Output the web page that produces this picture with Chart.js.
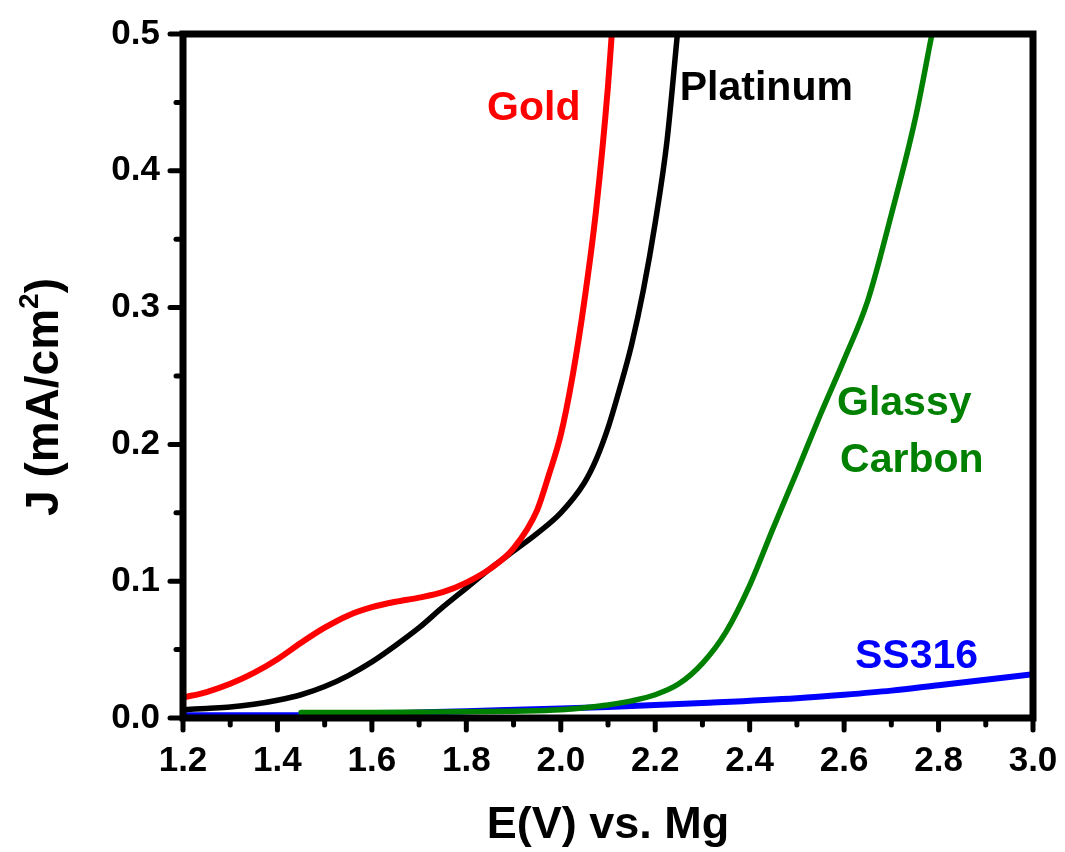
<!DOCTYPE html>
<html>
<head>
<meta charset="utf-8">
<script src="https://cdn.jsdelivr.net/npm/chart.js@4.4.1/dist/chart.umd.min.js"></script>
<style>
  html, body { margin: 0; padding: 0; background: #fff; }
  canvas { display: block; }
</style>
</head>
<body>
<canvas id="lsv" width="1065" height="852"></canvas>
<script>
// Linear sweep voltammetry: current density vs. potential (V vs. Mg)
const goldE = [1.20, 1.25, 1.30, 1.35, 1.40, 1.45, 1.50, 1.55, 1.60, 1.65, 1.70, 1.75, 1.80, 1.85, 1.90, 1.95, 1.975, 2.00, 2.025, 2.05, 2.075, 2.10, 2.108];
const goldJ = [0.015, 0.019, 0.025, 0.033, 0.043, 0.055, 0.066, 0.075, 0.081, 0.085, 0.088, 0.092, 0.099, 0.109, 0.124, 0.152, 0.178, 0.207, 0.250, 0.305, 0.372, 0.462, 0.500];

const platE = [1.20, 1.25, 1.30, 1.35, 1.40, 1.45, 1.50, 1.55, 1.60, 1.65, 1.70, 1.75, 1.80, 1.85, 1.90, 1.95, 2.00, 2.05, 2.075, 2.10, 2.125, 2.15, 2.175, 2.20, 2.225, 2.247];
const platJ = [0.006, 0.007, 0.008, 0.010, 0.013, 0.017, 0.023, 0.031, 0.041, 0.053, 0.066, 0.081, 0.095, 0.109, 0.122, 0.135, 0.150, 0.172, 0.189, 0.212, 0.241, 0.273, 0.313, 0.362, 0.422, 0.500];

const glassyE = [1.45, 1.60, 1.80, 1.90, 2.00, 2.05, 2.10, 2.15, 2.20, 2.25, 2.30, 2.35, 2.40, 2.45, 2.50, 2.55, 2.60, 2.65, 2.70, 2.75, 2.786];
const glassyJ = [0.004, 0.004, 0.0045, 0.005, 0.006, 0.0075, 0.0095, 0.0125, 0.017, 0.025, 0.040, 0.063, 0.097, 0.139, 0.180, 0.222, 0.262, 0.305, 0.368, 0.437, 0.500];

const ssE = [1.20, 1.40, 1.60, 1.80, 2.00, 2.10, 2.30, 2.50, 2.60, 2.70, 2.80, 2.90, 3.00];
const ssJ = [0.002, 0.002, 0.003, 0.005, 0.007, 0.008, 0.011, 0.0145, 0.017, 0.020, 0.024, 0.028, 0.032];

const xMajorTicks = [1.2, 1.4, 1.6, 1.8, 2.0, 2.2, 2.4, 2.6, 2.8, 3.0];
const xMinorTicks = [1.3, 1.5, 1.7, 1.9, 2.1, 2.3, 2.5, 2.7, 2.9];
const yMajorTicks = [0.0, 0.1, 0.2, 0.3, 0.4, 0.5];
const yMinorTicks = [0.05, 0.15, 0.25, 0.35, 0.45];

const seriesNames = ['Gold', 'Platinum', 'Glassy Carbon', 'SS316'];
const xTitle = 'E(V) vs. Mg';
const yTitleParts = { base: 'J (mA/cm', sup: '2', tail: ')' };

// In-plot curve labels, anchored in data coordinates (left edge, baseline)
const curveLabels = [
  { lines: ['Gold'], e: 1.844, j: 0.437, color: '#ff0000' },
  { lines: ['Platinum'], e: 2.252, j: 0.452, color: '#000000' },
  { lines: ['Glassy', 'Carbon'], e: 2.585, j: 0.2215, color: '#008000' },
  { lines: ['SS316'], e: 2.623, j: 0.0365, color: '#0000ff' }
];

const FONT = '"Liberation Sans", Arial, sans-serif';

const toPoints = (xs, ys) => xs.map((x, i) => ({ x: x, y: ys[i] }));

function lineSet(label, xs, ys, color, width) {
  return {
    label: label,
    data: toPoints(xs, ys),
    borderColor: color,
    backgroundColor: color,
    borderWidth: width,
    pointRadius: 0,
    showLine: true,
    fill: false,
    cubicInterpolationMode: 'monotone',
    borderCapStyle: 'round',
    borderJoinStyle: 'round'
  };
}

// Frame, outward tick marks (major + minor), y title with superscript, curve labels
const framePlugin = {
  id: 'framePlugin',
  afterDatasetsDraw(chart) {
    const { ctx, chartArea: a, scales: { x, y } } = chart;
    ctx.save();
    ctx.strokeStyle = '#000';
    ctx.lineCap = 'round';

    ctx.lineWidth = 5;
    const tick = (x1, y1, x2, y2) => { ctx.beginPath(); ctx.moveTo(x1, y1); ctx.lineTo(x2, y2); ctx.stroke(); };
    xMajorTicks.forEach(v => { const px = x.getPixelForValue(v); tick(px, a.bottom, px, a.bottom + 12); });
    xMinorTicks.forEach(v => { const px = x.getPixelForValue(v); tick(px, a.bottom, px, a.bottom + 7); });
    yMajorTicks.forEach(v => { const py = y.getPixelForValue(v); tick(a.left, py, a.left - 13, py); });
    yMinorTicks.forEach(v => { const py = y.getPixelForValue(v); tick(a.left, py, a.left - 7, py); });

    ctx.lineCap = 'square';
    ctx.lineWidth = 7;
    ctx.strokeRect(a.left, a.top, a.right - a.left, a.bottom - a.top);

    // curve labels
    ctx.font = 'bold 41px ' + FONT;
    ctx.textAlign = 'left';
    ctx.textBaseline = 'alphabetic';
    curveLabels.forEach(l => {
      ctx.fillStyle = l.color;
      const px = x.getPixelForValue(l.e);
      const py = y.getPixelForValue(l.j);
      l.lines.forEach((t, i) => ctx.fillText(t, px + (i ? 3 : 0), py + i * 57));
    });

    // y-axis title, rotated, with superscript
    const baseFont = 'bold 46px ' + FONT;
    const supFont = 'bold 28px ' + FONT;
    ctx.font = baseFont;
    const wBase = ctx.measureText(yTitleParts.base).width;
    const wTail = ctx.measureText(yTitleParts.tail).width;
    ctx.font = supFont;
    const wSup = ctx.measureText(yTitleParts.sup).width;
    const total = wBase + wSup + wTail;
    ctx.translate(58, (a.top + a.bottom) / 2 + 21);
    ctx.rotate(-Math.PI / 2);
    ctx.fillStyle = '#000';
    ctx.textAlign = 'left';
    ctx.textBaseline = 'alphabetic';
    let cx = -total / 2;
    ctx.font = baseFont;
    ctx.fillText(yTitleParts.base, cx, 0);
    cx += wBase;
    ctx.font = supFont;
    ctx.fillText(yTitleParts.sup, cx, -20);
    cx += wSup;
    ctx.font = baseFont;
    ctx.fillText(yTitleParts.tail, cx, 0);
    ctx.restore();
  }
};

new Chart(document.getElementById('lsv'), {
  type: 'scatter',
  data: {
    datasets: [
      lineSet(seriesNames[0], goldE, goldJ, '#ff0000', 6),
      lineSet(seriesNames[1], platE, platJ, '#000000', 5.5),
      lineSet(seriesNames[2], glassyE, glassyJ, '#008000', 5.5),
      lineSet(seriesNames[3], ssE, ssJ, '#0000ff', 6)
    ]
  },
  options: {
    responsive: false,
    animation: false,
    events: [],
    layout: { padding: { top: 34, right: 32, left: 0, bottom: 0 } },
    plugins: { legend: { display: false }, tooltip: { enabled: false } },
    scales: {
      x: {
        type: 'linear',
        min: 1.2,
        max: 3.0,
        afterBuildTicks: s => { s.ticks = xMajorTicks.map(v => ({ value: v })); },
        afterFit: s => { s.height = 134; s.paddingLeft = 0; s.paddingRight = 0; },
        grid: { display: false, drawTicks: false },
        border: { display: false },
        ticks: {
          color: '#000',
          padding: 22,
          maxRotation: 0,
          autoSkip: false,
          font: { family: FONT, size: 35, weight: 'bold' },
          callback: v => Number(v).toFixed(1)
        },
        title: {
          display: true,
          text: xTitle,
          color: '#000',
          padding: { top: 0, bottom: 4 },
          font: { family: FONT, size: 45, weight: 'bold', lineHeight: 1 }
        }
      },
      y: {
        type: 'linear',
        min: 0,
        max: 0.5,
        afterBuildTicks: s => { s.ticks = yMajorTicks.map(v => ({ value: v })); },
        afterFit: s => { s.width = 183; s.paddingTop = 0; s.paddingBottom = 0; },
        grid: { display: false, drawTicks: false },
        border: { display: false },
        ticks: {
          color: '#000',
          padding: 23,
          autoSkip: false,
          font: { family: FONT, size: 35, weight: 'bold' },
          callback: v => Number(v).toFixed(1)
        },
        title: { display: false }
      }
    }
  },
  plugins: [framePlugin]
});
</script>
</body>
</html>
